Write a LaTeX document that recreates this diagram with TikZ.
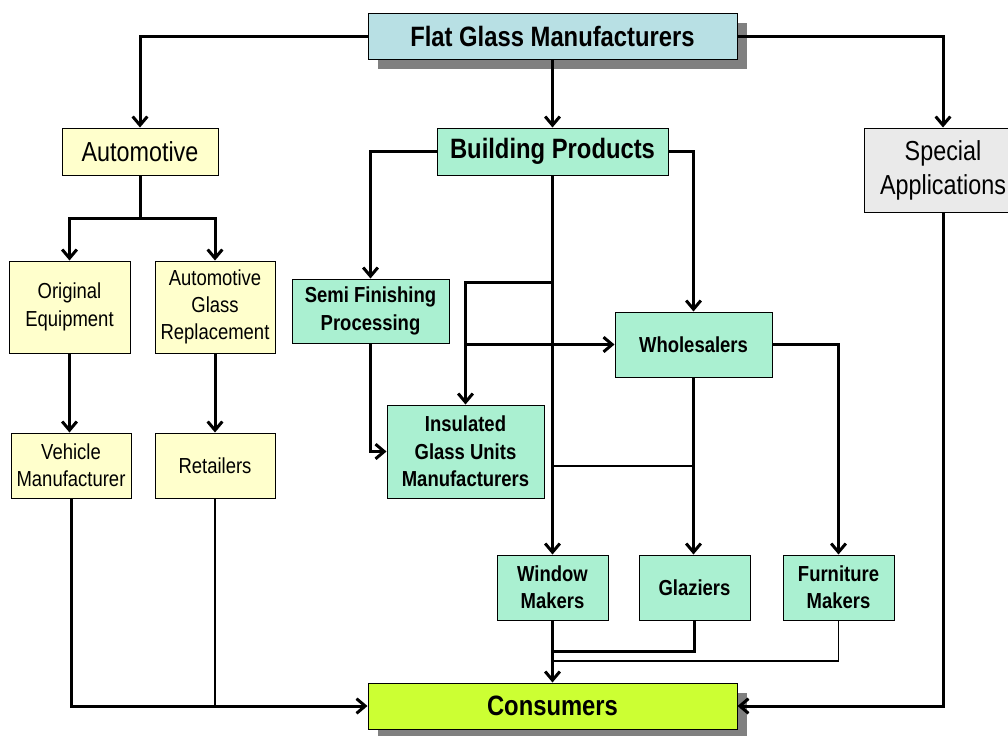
\documentclass[tikz,border=0pt]{standalone}
\usepackage{fontspec}
\setmainfont{Liberation Sans}[FakeStretch=0.85]
\usetikzlibrary{arrows.meta,shadows}
\definecolor{cblue}{HTML}{B8E0E4}
\definecolor{cmint}{HTML}{AAF0D1}
\definecolor{cyel}{HTML}{FFFFCC}
\definecolor{cgray}{HTML}{EAEAEA}
\definecolor{clime}{HTML}{CCFF33}
\definecolor{cshadow}{HTML}{808080}
\begin{document}
\begin{tikzpicture}[x=0.75pt,y=-0.75pt,
  box/.style={draw=black,line width=0.75pt,inner sep=0pt,align=center,text=black},
  sz/.style 2 args={minimum width=#1*0.75pt,minimum height=#2*0.75pt},
  big/.style={font=\fontsize{21}{25.5}\selectfont\bfseries},
  bigreg/.style={font=\fontsize{20.6}{25.5}\selectfont},
  small/.style={font=\fontsize{16.3}{20.5}\selectfont},
  smallb/.style={font=\fontsize{16.3}{20.5}\selectfont\bfseries},
  shad/.style={drop shadow={shadow xshift=7.5pt,shadow yshift=-7.5pt,fill=cshadow,opacity=1}},
  thk/.style={line width=2.25pt},
  thn/.style={line width=1pt},
  arr/.style={-{Straight Barb[length=6.5pt,width=11pt]}}]
\useasboundingbox (0,0) rectangle (1008,736);
\clip (0,0) rectangle (1008,736);
\fill[white] (0,0) rectangle (1008,736);
% nodes
\node[box,big,shad,fill=cblue,sz={369}{46}] (fgm) at (552.5,36) {Flat Glass Manufacturers};
\node[box,bigreg,fill=cyel,sz={156}{47}] (auto) at (140,151.5) {Automotive};
\node[box,big,fill=cmint,sz={231}{47}] (bp) at (552.5,151.5) {Building Products};
\node[box,bigreg,fill=cgray,sz={158}{84}] (sa) at (943,170) {Special\\Applications};
\node[box,small,fill=cyel,sz={121}{92}] (oe) at (69.5,307) {Original\\Equipment};
\node[box,small,fill=cyel,sz={120}{92}] (agr) at (215,307) {Automotive\\Glass\\Replacement};
\node[box,small,fill=cyel,sz={120}{65}] (vm) at (71,465.5) {Vehicle\\Manufacturer};
\node[box,small,fill=cyel,sz={120}{65}] (ret) at (215,465.5) {Retailers};
\node[box,smallb,fill=cmint,sz={157}{64}] (sfp) at (370.5,311) {Semi Finishing\\Processing};
\node[box,smallb,fill=cmint,sz={157}{65}] (whl) at (693.5,344.5) {Wholesalers};
\node[box,smallb,fill=cmint,sz={157}{93}] (igu) at (465.5,451.5) {Insulated\\Glass Units\\Manufacturers};
\node[box,smallb,fill=cmint,sz={111}{65}] (wm) at (552.5,587.5) {Window\\Makers};
\node[box,smallb,fill=cmint,sz={111}{65}] (gl) at (694.5,587.5) {Glaziers};
\node[box,smallb,fill=cmint,sz={111}{65}] (fm) at (838.5,587.5) {Furniture\\Makers};
\node[box,big,shad,fill=clime,sz={369}{46}] (con) at (552.5,706) {Consumers};
% junction coordinates
\coordinate (aj) at (140,218);
\coordinate (bj) at (552.5,282);
\coordinate (ij) at (552.5,466);
\coordinate (gj) at (693.5,466);
\coordinate (cj1) at (552.5,651);
\coordinate (cj2) at (552.5,661);
% connectors
\draw[thk,arr] (fgm.west) -| (auto.north);
\draw[thk,arr] (fgm.south) -- (bp.north);
\draw[thk,arr] (fgm.east) -| (sa.north);
\draw[thk] (auto.south) -- (aj);
\draw[thk,arr] (aj) -| (oe.north);
\draw[thk,arr] (aj) -| (agr.north);
\draw[thk,arr] (oe.south) -- (oe.south |- vm.north);
\draw[thk,arr] (agr.south) -- (ret.north);
\draw[thk,arr] (vm.south) |- (con.west);
\draw[thn] (ret.south) -- (ret.south |- con.west);
\draw[thk,arr] (sa.south) |- (con.east);
\draw[thk,arr] (bp.west) -| (sfp.north);
\draw[thk,arr] (bp.east) -| (whl.north);
\draw[thk,arr] (bp.south) -- (wm.north);
\draw[thk,arr] (bj) -| (igu.north);
\draw[thk,arr] (igu.north |- whl.west) -- (whl.west);
\draw[thk,arr] (sfp.south) |- (igu.west);
\draw[thn] (ij) -- (gj);
\draw[thk,arr] (whl.south) -- (whl.south |- gl.north);
\draw[thk,arr] (whl.east) -| (fm.north);
\draw[thk,arr] (wm.south) -- (con.north);
\draw[thk] (gl.south) |- (cj1);
\draw[thn] (fm.south) |- (cj2);
\end{tikzpicture}
\end{document}
